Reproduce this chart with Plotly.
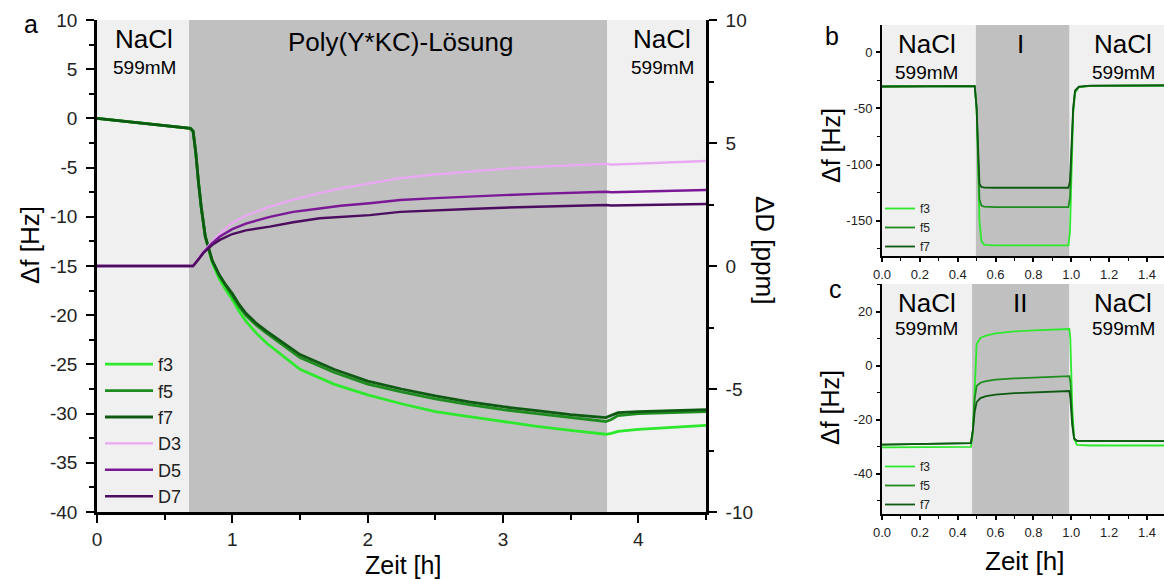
import plotly.graph_objects as go

W, H = 1164, 579
FONT = "Liberation Sans, Arial, sans-serif"

# ---------------- Panel a data ----------------
t_a = [0.0, 0.35, 0.69, 0.71, 0.73, 0.75, 0.77, 0.80, 0.85, 0.90, 0.95, 1.0, 1.05, 1.1, 1.175, 1.25,
       1.4, 1.5, 1.75, 2.0, 2.25, 2.5, 2.75, 3.0, 3.25, 3.5, 3.76, 3.80, 3.85, 4.0, 4.25, 4.5]
f3_a = [0.0, -0.5, -1.0, -1.3, -3.5, -6.5, -9.0, -12.0, -14.6, -16.2, -17.4, -18.4, -19.6, -20.6, -21.8, -22.8,
        -24.4, -25.5, -27.0, -28.1, -29.0, -29.8, -30.3, -30.8, -31.3, -31.7, -32.1, -32.0, -31.8, -31.6, -31.4, -31.2]
f5_a = [0.0, -0.5, -1.0, -1.3, -3.5, -6.5, -9.0, -12.0, -14.4, -15.9, -17.0, -18.0, -19.1, -20.0, -21.0, -21.8,
        -23.3, -24.3, -25.8, -27.0, -27.8, -28.5, -29.1, -29.6, -30.0, -30.4, -30.8, -30.6, -30.2, -30.0, -29.9, -29.8]
f7_a = [0.0, -0.5, -1.0, -1.3, -3.5, -6.5, -9.0, -12.0, -14.4, -15.8, -16.9, -17.8, -18.9, -19.8, -20.8, -21.6,
        -23.0, -24.0, -25.5, -26.7, -27.5, -28.2, -28.8, -29.3, -29.7, -30.1, -30.4, -30.2, -29.9, -29.8, -29.7, -29.6]

t_d = [0.0, 0.35, 0.69, 0.71, 0.75, 0.785, 0.85, 0.908, 1.0, 1.1, 1.277, 1.45, 1.646, 1.8,
       2.015, 2.24, 2.5, 2.75, 3.0, 3.25, 3.5, 3.76, 3.8, 4.0, 4.25, 4.5]
D3_a = [0.0, 0.0, 0.0, 0.0, 0.3, 0.58, 0.98, 1.32, 1.75, 2.05, 2.41, 2.70, 2.96, 3.15,
        3.36, 3.57, 3.72, 3.85, 3.95, 4.03, 4.10, 4.15, 4.12, 4.17, 4.22, 4.27]
D5_a = [0.0, 0.0, 0.0, 0.0, 0.28, 0.55, 0.92, 1.20, 1.50, 1.72, 2.00, 2.20, 2.34, 2.45,
        2.55, 2.68, 2.76, 2.83, 2.88, 2.93, 2.98, 3.02, 3.00, 3.03, 3.06, 3.09]
D7_a = [0.0, 0.0, 0.0, 0.0, 0.26, 0.52, 0.85, 1.06, 1.30, 1.45, 1.60, 1.78, 1.94, 2.00,
        2.07, 2.20, 2.27, 2.32, 2.37, 2.41, 2.45, 2.48, 2.46, 2.48, 2.50, 2.52]

# ---------------- Panel b data ----------------
t_b = [0.0, 0.2, 0.4, 0.49, 0.50, 0.51, 0.515, 0.525, 0.54, 0.6, 0.8, 0.985, 0.993, 1.0,
       1.01, 1.02, 1.04, 1.1, 1.3, 1.49]
f3_b = [-30.5, -30.3, -30.2, -30.2, -50, -110, -150, -168, -171.5, -172, -172, -172, -160, -110,
        -55, -36, -31, -30, -29.7, -29.6]
f5_b = [-30.5, -30.3, -30.2, -30.2, -50, -110, -131, -136.5, -137.5, -138, -138, -138, -130, -100,
        -52, -35, -31, -30, -29.7, -29.6]
f7_b = [-30.5, -30.3, -30.2, -30.2, -50, -105, -117, -120, -120.5, -120.7, -120.7, -120.7, -115, -90,
        -50, -34, -30.5, -29.8, -29.6, -29.5]

# ---------------- Panel c data ----------------
t_c = [0.0, 0.2, 0.4, 0.47, 0.48, 0.49, 0.50, 0.52, 0.55, 0.6, 0.7, 0.8, 0.9, 0.99, 0.995,
       1.005, 1.015, 1.03, 1.1, 1.3, 1.49]
f3_c = [-30.3, -30.3, -30.2, -30.1, -25, -5, 8, 10.3, 11.2, 12, 12.7, 13.1, 13.4, 13.6, 10,
        -15, -27, -29.4, -29.6, -29.6, -29.6]
f5_c = [-29.3, -29.1, -28.9, -28.7, -24, -12, -7.5, -6.3, -5.7, -5.2, -4.7, -4.4, -4.1, -3.9, -6,
        -20, -27, -28.0, -28.0, -28.0, -28.0]
f7_c = [-29.3, -29.1, -28.9, -28.7, -24, -17, -13.5, -12.0, -11.3, -10.7, -10.2, -9.9, -9.6, -9.4, -12,
        -22, -27, -27.8, -27.9, -28.0, -28.0]

phase_a = [0.0, 0.68, 3.77, 4.5]
phase_b = [0.0, 0.496, 0.991, 1.49]
phase_c = [0.0, 0.476, 0.99, 1.49]

# tick labels (hyphen minus as in the original)
ya_ticks = [10, 5, 0, -5, -10, -15, -20, -25, -30, -35, -40]
yd_ticks = [10, 5, 0, -5, -10]
yb_ticks = [0, -50, -100, -150]
yc_ticks = [20, 0, -20, -40]


def lab(v):
    return str(v)


C_F3, C_F5, C_F7 = "#2ee82e", "#1e8c1e", "#0e5a12"
C_D3, C_D5, C_D7 = "#e8a8f2", "#7a1896", "#4c0d60"
LIGHT, DARK = "#f0f0f0", "#c0c0c0"

fig = go.Figure()

for name, ys, col, rank in [("D3", D3_a, C_D3, 4), ("D5", D5_a, C_D5, 5), ("D7", D7_a, C_D7, 6)]:
    fig.add_trace(go.Scatter(x=t_d, y=ys, mode="lines", name=name, xaxis="x", yaxis="y2",
                             line=dict(color=col, width=2.4), legend="legend", legendrank=rank))
for name, ys, col, rank in [("f3", f3_a, C_F3, 1), ("f5", f5_a, C_F5, 2), ("f7", f7_a, C_F7, 3)]:
    fig.add_trace(go.Scatter(x=t_a, y=ys, mode="lines", name=name, xaxis="x", yaxis="y",
                             line=dict(color=col, width=2.8), legend="legend", legendrank=rank))

for name, ys, col in [("f3", f3_b, C_F3), ("f5", f5_b, C_F5), ("f7", f7_b, C_F7)]:
    fig.add_trace(go.Scatter(x=t_b, y=ys, mode="lines", name=name, xaxis="x3", yaxis="y3",
                             line=dict(color=col, width=1.8), legend="legend2"))
for name, ys, col in [("f3", f3_c, C_F3), ("f5", f5_c, C_F5), ("f7", f7_c, C_F7)]:
    fig.add_trace(go.Scatter(x=t_c, y=ys, mode="lines", name=name, xaxis="x4", yaxis="y4",
                             line=dict(color=col, width=1.8), legend="legend3"))

shapes = []
for xr, yr, ph in [("x", "y", phase_a), ("x3", "y3", phase_b), ("x4", "y4", phase_c)]:
    cols = [LIGHT, DARK, LIGHT]
    for i in range(3):
        shapes.append(dict(type="rect", xref=xr, yref=yr + " domain", x0=ph[i], x1=ph[i + 1],
                           y0=0, y1=1, fillcolor=cols[i], line=dict(width=0), layer="below"))


def px(x):
    return x / W


def py(y):
    return 1 - y / H


ann = []


def A(text, x, y, size, angle=0):
    ann.append(dict(text=text, x=px(x), y=py(y), xref="paper", yref="paper", showarrow=False,
                    xanchor="center", yanchor="middle", textangle=angle,
                    font=dict(size=size, color="black", family=FONT)))


A("a", 31, 24, 25)
A("b", 832, 36, 25)
A("c", 835, 289, 25)
A("NaCl", 144, 39, 26)
A("599mM", 144, 67, 19)
A("Poly(Y*KC)-Lösung", 400, 42, 26)
A("NaCl", 662, 39, 26)
A("599mM", 662, 67, 19)
A("Δf [Hz]", 30, 245, 26, -90)
A("ΔD [ppm]", 765, 250, 26, 90)
A("Zeit [h]", 403, 565, 25)

A("NaCl", 927, 44, 26)
A("599mM", 927, 73, 19)
A("I", 1020, 44, 26)
A("NaCl", 1123, 44, 26)
A("599mM", 1123, 73, 19)
A("Δf [Hz]", 831, 146, 25, -90)

A("NaCl", 927, 303, 26)
A("599mM", 927, 328, 19)
A("II", 1020, 303, 26)
A("NaCl", 1123, 303, 26)
A("599mM", 1123, 328, 19)
A("Δf [Hz]", 830, 408, 25, -90)
A("Zeit [h]", 1024, 561, 26)


def big_axis(standoff):
    return dict(showgrid=False, zeroline=False, showline=True, linecolor="black", linewidth=2.6,
                ticks="outside", ticklen=8, tickwidth=2.4, tickcolor="black", automargin=False,
                tickfont=dict(size=19, family=FONT, color="#222"), ticklabelstandoff=standoff)


small_axis = dict(showgrid=False, zeroline=False, showline=True, linecolor="black", linewidth=2,
                  ticks="outside", ticklen=4, tickwidth=1.6, tickcolor="black", automargin=False,
                  tickfont=dict(size=13, family=FONT, color="#222"), ticklabelstandoff=1)

xa = dict(domain=[px(97), px(706)], range=[0, 4.5], anchor="y", dtick=1, tick0=0,
          minor=dict(dtick=0.5, ticklen=5, tickwidth=2, ticks="outside", tickcolor="black"), **big_axis(0))
ya = dict(domain=[py(512), py(20)], range=[-40, 10], anchor="x",
          tickvals=ya_ticks, ticktext=[lab(v) for v in ya_ticks],
          minor=dict(dtick=2.5, ticklen=5, tickwidth=2, ticks="outside", tickcolor="black"), **big_axis(5))
ya2 = dict(range=[-10, 10], overlaying="y", side="right", anchor="x",
           tickvals=yd_ticks, ticktext=[lab(v) for v in yd_ticks],
           minor=dict(dtick=2.5, ticklen=5, tickwidth=2, ticks="outside", tickcolor="black"), **big_axis(5))

xb = dict(domain=[px(882), 1.0], range=[0, 1.49], anchor="y3", dtick=0.2, tick0=0, tickformat=".1f",
          minor=dict(dtick=0.1, ticklen=3, tickwidth=1.4, ticks="outside", tickcolor="black"), **small_axis)
yb = dict(domain=[py(256), py(25)], range=[-181.5, 24.3], anchor="x3",
          tickvals=yb_ticks, ticktext=[lab(v) for v in yb_ticks],
          minor=dict(dtick=25, ticklen=3, tickwidth=1.4, ticks="outside", tickcolor="black"), **small_axis)
xc = dict(domain=[px(882), 1.0], range=[0, 1.49], anchor="y4", dtick=0.2, tick0=0, tickformat=".1f",
          minor=dict(dtick=0.1, ticklen=3, tickwidth=1.4, ticks="outside", tickcolor="black"), **small_axis)
yc = dict(domain=[py(514), py(284)], range=[-55, 30.3], anchor="x4",
          tickvals=yc_ticks, ticktext=[lab(v) for v in yc_ticks],
          minor=dict(dtick=10, ticklen=3, tickwidth=1.4, ticks="outside", tickcolor="black"), **small_axis)

leg_common = dict(bgcolor="rgba(0,0,0,0)", borderwidth=0, xanchor="left", yanchor="top",
                  traceorder="normal", tracegroupgap=0, itemclick=False, itemdoubleclick=False)

fig.update_layout(
    width=W, height=H, margin=dict(l=0, r=0, t=0, b=0, autoexpand=False),
    paper_bgcolor="white", plot_bgcolor="rgba(0,0,0,0)",
    font=dict(family=FONT, color="black"),
    xaxis=xa, yaxis=ya, yaxis2=ya2, xaxis3=xb, yaxis3=yb, xaxis4=xc, yaxis4=yc,
    shapes=shapes, annotations=ann,
    legend=dict(x=px(100), y=py(346), itemwidth=48, font=dict(size=18, family=FONT, color="#222"), **leg_common),
    legend2=dict(x=px(880), y=py(194), font=dict(size=12, family=FONT, color="#222"), **leg_common),
    legend3=dict(x=px(880), y=py(452), font=dict(size=12, family=FONT, color="#222"), **leg_common),
    showlegend=True,
)

fig.write_html("out.html", config={"displayModeBar": False},
               post_script="document.body.style.margin='0px';")
